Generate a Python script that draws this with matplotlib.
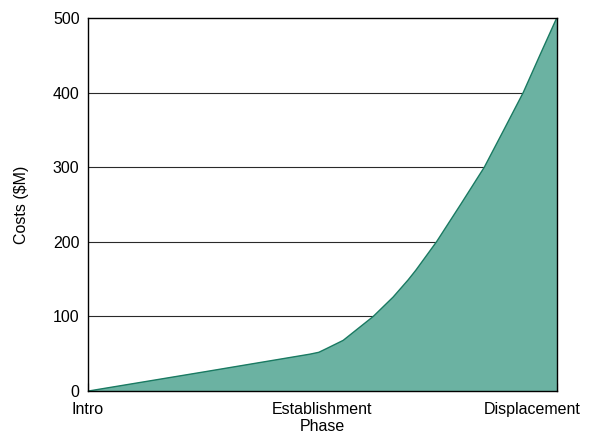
import matplotlib.pyplot as plt
from matplotlib.transforms import ScaledTranslation

plt.rcParams['font.family'] = ['Liberation Sans', 'DejaVu Sans']

phase_pos = [0, 0.5, 0.947, 0.985, 1.018, 1.089, 1.217, 1.302, 1.366, 1.399, 1.487,
             1.594, 1.691, 1.771, 1.857, 1.928, 2.0]
costs = [0, 26, 49.5, 52, 57, 68, 100, 126, 149, 162, 200,
         252, 300, 348, 400, 450, 500]
tick_labels = ['Intro', 'Establishment', 'Displacement']

fig = plt.figure(figsize=(5.98, 4.37), dpi=100)
ax = fig.add_axes([0.147, 0.105, 0.784, 0.854])

for y in [100, 200, 300, 400]:
    ax.axhline(y, color='#2a2a2a', lw=0.8, zorder=1)

ax.fill_between(phase_pos, costs, 0, color='#6bb2a2', zorder=2)
ax.plot(phase_pos, costs, color='#1a7a62', lw=1.0, zorder=3)

ax.set_xlim(0, 2)
ax.set_ylim(0, 500)
ax.set_xticks([0, 1, 2])
ax.set_xticklabels(tick_labels)
ax.set_yticks([0, 100, 200, 300, 400, 500])
ax.tick_params(direction='in', length=6, labelsize=11.5, pad=8)
ax.tick_params(axis='y', length=0, pad=6)
ax.set_xlabel('Phase', fontsize=11.5, labelpad=1)
ax.set_ylabel('Costs ($M)', fontsize=11.5, labelpad=17)
for s in ax.spines.values():
    s.set_zorder(4)
    s.set_linewidth(1.0)

# last label sits left of its tick so it fits in the figure
lbl = ax.get_xticklabels()[-1]
lbl.set_transform(lbl.get_transform() + ScaledTranslation(-25 / 100, 0, fig.dpi_scale_trans))

fig.savefig('out.png', dpi=100)
